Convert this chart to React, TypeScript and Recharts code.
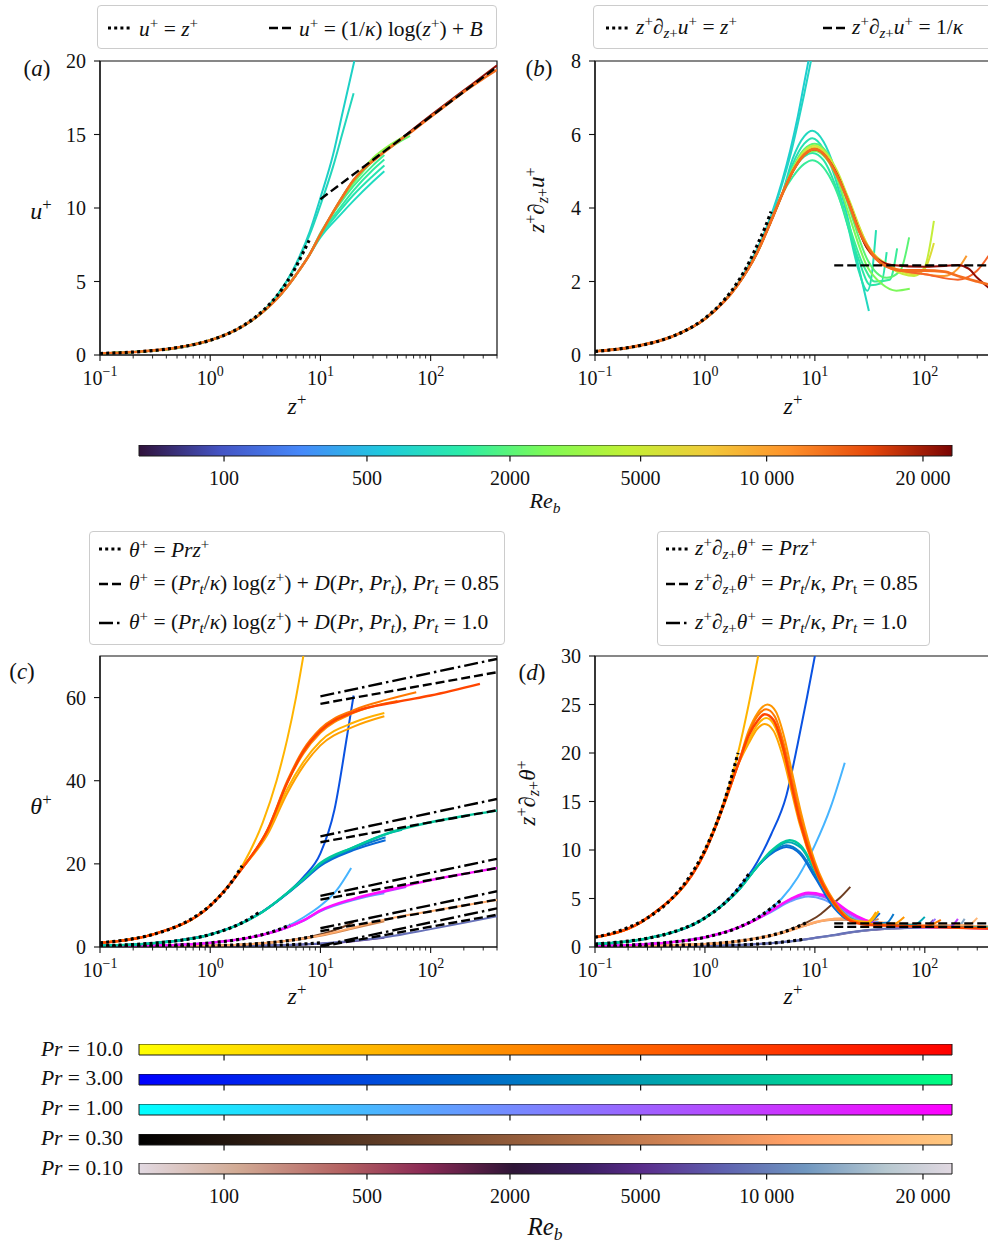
import React from 'react';
import { LineChart, Line, XAxis, YAxis, ReferenceArea } from 'recharts';

type Pt = [number, number];

const SERIF = '"Liberation Serif", "DejaVu Serif", "Times New Roman", serif';

// ---------- axes / colorbar ticks ----------
const X_MAJOR = [0.1, 1, 10, 100];
const X_EXP: Record<string, string> = { '0.1': '\u22121', '1': '0', '10': '1', '100': '2' };
const X_MINOR = [0.2, 0.3, 0.4, 0.5, 0.6, 0.7, 0.8, 0.9, 2, 3, 4, 5, 6, 7, 8, 9, 20, 30, 40, 50, 60, 70, 80, 90, 200, 300, 400];
const X_TICKS = [...X_MAJOR, ...X_MINOR].sort((a, b) => a - b);

const YA_TICKS = [0, 5, 10, 15, 20];
const YB_TICKS = [0, 2, 4, 6, 8];
const YC_TICKS = [0, 20, 40, 60];
const YD_TICKS = [0, 5, 10, 15, 20, 25, 30];

const CB_TICK_POS = [0.1046, 0.2804, 0.4563, 0.617, 0.772, 0.9643];
const CB_LABELS = ['100', '500', '2000', '5000', '10 000', '20 000'];
const CB_FRAME = [{ x: 0, y: 0 }, { x: 1, y: 1 }];
const PR_LABELS = ['10.0', '3.00', '1.00', '0.30', '0.10'];

// ---------- panel (a): u+ ----------
const A_VISC: Pt[] = [[0.1, 0.1], [0.15, 0.15], [0.2, 0.2], [0.3, 0.3], [0.4, 0.4], [0.5, 0.5], [0.7, 0.7], [1, 1], [1.5, 1.5], [2, 2], [2.5, 2.5], [3, 3], [4, 4], [5, 5], [6, 6], [7, 7], [7.9, 7.8]];
const A_LOG: Pt[] = [[10, 10.6], [400, 19.6]];
const A_WALL: Pt[] = [[0.1, 0.1], [0.2, 0.2], [0.5, 0.5], [1, 1], [2, 1.98], [3, 2.92], [4, 3.8], [5, 4.65], [6, 5.45], [8, 6.85]];
const A_LAM1: Pt[] = [[0.1, 0.1], [0.3, 0.3], [1, 1], [2, 2], [4, 4], [6, 6.2], [8, 8.4], [10, 10.7], [13, 13.6], [16, 16.6], [20.3, 20]];
const A_LAM2: Pt[] = [[0.1, 0.1], [0.3, 0.3], [1, 1], [2, 2], [4, 4], [6, 6.1], [8, 8.2], [10, 10.2], [13, 12.8], [16, 15.2], [20, 17.8]];
const A_RE1: Pt[] = [...A_WALL, [10, 8.0], [15, 9.5], [20, 10.5], [30, 11.8], [38, 12.5]];
const A_RE2: Pt[] = [...A_WALL, [10, 8.1], [15, 9.8], [20, 10.9], [30, 12.2], [38, 12.9]];
const A_RE3: Pt[] = [...A_WALL, [10, 8.2], [15, 10.0], [20, 11.2], [30, 12.6], [38, 13.3]];
const A_RE4: Pt[] = [...A_WALL, [10, 8.3], [15, 10.3], [20, 11.5], [30, 12.9], [38, 13.6]];
const A_RE5: Pt[] = [...A_WALL, [10, 8.2], [15, 10.4], [20, 11.7], [30, 13.2], [45, 14.2], [65, 14.9]];
const A_RE6: Pt[] = [...A_WALL, [10, 8.2], [15, 10.5], [20, 11.9], [30, 13.4], [45, 14.4], [65, 15.1]];
const A_RE7: Pt[] = [...A_WALL, [10, 8.2], [13, 9.7], [16, 10.8], [20, 11.9], [25, 12.7], [35, 13.6], [50, 14.5], [70, 15.3], [100, 16.2], [150, 17.2], [200, 17.9], [300, 18.8], [400, 19.4]];
const A_RE8: Pt[] = [...A_WALL, [10, 8.2], [20, 11.9], [50, 14.5], [100, 16.3], [200, 18.0], [300, 19.0], [400, 19.7]];

// ---------- panel (b): z+ du+/dz+ ----------
const B_VISC: Pt[] = [[0.1, 0.1], [0.15, 0.15], [0.2, 0.2], [0.3, 0.3], [0.4, 0.4], [0.5, 0.5], [0.7, 0.7], [1, 1], [1.5, 1.5], [2, 2], [2.5, 2.5], [3, 3], [3.5, 3.45], [4, 3.9]];
const B_LOG: Pt[] = [[15, 2.44], [400, 2.44]];
const B_WALL: Pt[] = [[0.1, 0.1], [0.2, 0.2], [0.5, 0.5], [1, 0.98], [2, 1.92], [3, 2.8], [4, 3.65], [5, 4.35]];
const B_LAM1: Pt[] = [[0.1, 0.1], [0.5, 0.5], [1, 0.99], [2, 1.96], [3, 2.9], [4, 3.8], [5, 4.7], [6, 5.6], [7, 6.5], [8, 7.4], [9, 8.2]];
const B_LAM2: Pt[] = [[0.1, 0.1], [0.5, 0.5], [1, 0.99], [2, 1.95], [3, 2.88], [4, 3.75], [5, 4.62], [6, 5.45], [7, 6.3], [8, 7.1], [9.5, 8.2]];
const B_RE1: Pt[] = [...B_WALL, [6.3, 5.35], [8, 5.95], [9.5, 6.1], [12, 5.8], [15, 5.1], [20, 3.7], [25, 2.4], [31, 1.2]];
const B_RE2: Pt[] = [...B_WALL, [6.3, 5.2], [8, 5.75], [9.5, 5.9], [12, 5.6], [15, 4.9], [20, 3.5], [25, 2.3], [30, 1.75], [33, 2.2], [36, 3.4]];
const B_RE3: Pt[] = [...B_WALL, [6.3, 5.0], [8, 5.4], [9.5, 5.5], [12, 5.3], [15, 4.7], [20, 3.5], [25, 2.6], [32, 1.9], [40, 1.95], [45, 2.8]];
const B_RE4: Pt[] = [...B_WALL, [6.3, 4.85], [8, 5.2], [9.5, 5.3], [12, 5.1], [15, 4.6], [20, 3.6], [28, 2.4], [35, 2.0], [48, 2.05], [56, 2.9]];
const B_RE5: Pt[] = [...B_WALL, [6.3, 5.1], [8, 5.6], [10, 5.75], [12.6, 5.55], [16, 4.95], [20, 4.1], [30, 2.6], [45, 2.1], [60, 2.3], [72, 3.2]];
const B_RE6: Pt[] = [...B_WALL, [6.3, 5.0], [8, 5.45], [10, 5.55], [12.6, 5.35], [16, 4.8], [20, 3.9], [30, 2.4], [40, 1.95], [55, 1.75], [73, 1.8]];
const B_RE7: Pt[] = [...B_WALL, [6.3, 5.05], [8, 5.55], [10, 5.7], [12.6, 5.5], [16, 5.0], [20, 4.3], [30, 3.0], [50, 2.35], [80, 2.15], [100, 2.4], [121, 3.65]];
const B_RE8: Pt[] = [...B_WALL, [6.3, 5.0], [8, 5.5], [10, 5.65], [12.6, 5.45], [16, 4.95], [20, 4.25], [30, 3.0], [50, 2.4], [80, 2.2], [100, 2.35], [121, 3.05]];
const B_RE9: Pt[] = [...B_WALL, [6.3, 5.0], [8, 5.45], [10, 5.6], [12.6, 5.4], [16, 4.9], [20, 4.2], [30, 2.9], [50, 2.38], [100, 2.2], [150, 2.15], [200, 2.35], [240, 2.7]];
const B_RE10: Pt[] = [...B_WALL, [6.3, 5.0], [8, 5.45], [10, 5.6], [12.6, 5.4], [16, 4.9], [20, 4.2], [30, 2.9], [50, 2.35], [100, 2.2], [200, 2.05], [300, 2.3], [380, 2.7]];
const B_RE11: Pt[] = [...B_WALL, [6.3, 5.0], [8, 5.45], [10, 5.6], [12.6, 5.4], [16, 4.9], [20, 4.2], [30, 2.9], [50, 2.45], [100, 2.4], [150, 2.42], [200, 2.45], [250, 2.35], [300, 2.1], [400, 1.78]];
const B_MAIN: Pt[] = [...B_WALL, [6.3, 5.0], [8, 5.45], [10, 5.6], [12.6, 5.4], [15.8, 4.9], [20, 4.2], [25, 3.4], [31.6, 2.85], [40, 2.5], [50, 2.35], [63, 2.3], [100, 2.3], [150, 2.27], [200, 2.15], [300, 2.0], [400, 1.9]];

// ---------- panel (c): theta+ ----------
const C10_VISC: Pt[] = [[0.1, 1], [0.15, 1.5], [0.2, 2], [0.3, 3], [0.5, 5], [0.7, 7], [1, 10], [1.5, 15], [1.95, 19.5]];
const C3_VISC: Pt[] = [[0.1, 0.3], [0.2, 0.6], [0.3, 0.9], [0.5, 1.5], [1, 3], [1.5, 4.5], [2, 6], [2.8, 8.4]];
const C1_VISC: Pt[] = [[0.1, 0.1], [0.3, 0.3], [0.5, 0.5], [1, 1], [2, 2], [3, 3], [4, 4], [5.3, 5.3]];
const C03_VISC: Pt[] = [[0.1, 0.03], [0.5, 0.15], [1, 0.3], [2, 0.6], [3, 0.9], [5, 1.5], [7, 2.1], [9, 2.7]];
const C01_VISC: Pt[] = [[0.1, 0.01], [1, 0.1], [3, 0.3], [5, 0.5], [10, 1.0]];
const C10_LOG85: Pt[] = [[10, 58.5], [400, 66.1]];
const C10_LOG10: Pt[] = [[10, 60.3], [400, 69.3]];
const C3_LOG85: Pt[] = [[10, 25.2], [400, 32.9]];
const C3_LOG10: Pt[] = [[10, 26.6], [400, 35.6]];
const C1_LOG85: Pt[] = [[10, 11.4], [400, 19.0]];
const C1_LOG10: Pt[] = [[10, 12.3], [400, 21.2]];
const C03_LOG85: Pt[] = [[10, 3.8], [400, 11.4]];
const C03_LOG10: Pt[] = [[10, 4.5], [400, 13.4]];
const C01_LOG85: Pt[] = [[10, 0.1], [400, 7.75]];
const C01_LOG10: Pt[] = [[10, 0.3], [400, 9.3]];

const C10_WALL: Pt[] = [[0.1, 1], [0.3, 3], [1, 9.9], [2, 19.3]];
const C10_LAM: Pt[] = [[0.1, 1], [0.3, 3], [1, 10], [2, 20], [3, 30], [4, 40], [5, 50], [6, 60], [7, 70]];
const C10_RE1: Pt[] = [...C10_WALL, [3.3, 27], [5, 37], [7, 43.5], [10, 48.5], [20, 53], [38, 55.5]];
const C10_RE2: Pt[] = [...C10_WALL, [3.3, 27.5], [5, 38], [7, 44.5], [10, 49.5], [20, 54], [38, 56.3]];
const C10_RE3: Pt[] = [...C10_WALL, [3.3, 28], [5, 39.5], [7, 46.5], [10, 51.5], [20, 56.3], [50, 59.2]];
const C10_RE4: Pt[] = [...C10_WALL, [3.3, 28.2], [5, 40], [7, 47.5], [10, 52.5], [20, 57], [40, 59.5], [74, 61.3]];
const C10_RE5: Pt[] = [...C10_WALL, [3.3, 28], [5, 39.5], [7, 47], [10, 52], [20, 56.5], [50, 59], [100, 60.5], [280, 63.3]];

const C3_WALL: Pt[] = [[0.1, 0.3], [0.3, 0.9], [1, 3], [2, 5.9], [3, 8.5]];
const C3_LAM: Pt[] = [[0.1, 0.3], [0.3, 0.9], [1, 3], [2, 6], [3, 8.6], [5, 13], [7, 16.8], [10, 22.5], [13.4, 33], [17.5, 51], [20, 60.5]];
const C3_RE1: Pt[] = [...C3_WALL, [5, 12.8], [7, 16], [10, 19.5], [20, 23.3], [39, 25.7]];
const C3_RE2: Pt[] = [...C3_WALL, [5, 12.9], [7, 16.2], [10, 19.8], [20, 23.7], [39, 26.4]];
const C3_RE3: Pt[] = [...C3_WALL, [5, 13], [7, 16.4], [10, 20], [20, 24], [40, 27.2], [55, 28.2]];
const C3_RE4: Pt[] = [...C3_WALL, [5, 13], [7, 16.3], [10, 20.2], [20, 24], [40, 27.3], [100, 30], [200, 31.5], [400, 32.8]];

const C1_WALL: Pt[] = [[0.1, 0.1], [0.3, 0.3], [1, 1], [2, 2], [3, 2.95], [5, 4.7]];
const C1_LAM: Pt[] = [[0.1, 0.1], [0.3, 0.3], [1, 1], [2, 2], [3, 3], [5, 5], [7, 7.1], [10, 9.9], [14, 13.6], [19, 19]];
const C1_RE1: Pt[] = [...C1_WALL, [7, 6.3], [10, 8.6], [20, 11.3], [38, 12.9]];
const C1_RE2: Pt[] = [...C1_WALL, [7, 6.35], [10, 8.7], [20, 11.5], [40, 13.4], [60, 14.4]];
const C1_RE3: Pt[] = [...C1_WALL, [7, 6.4], [10, 8.8], [20, 11.6], [40, 13.6], [100, 16.1], [200, 17.6], [400, 19.0]];

const C03_WALL: Pt[] = [[0.1, 0.03], [1, 0.3], [3, 0.9], [5, 1.48]];
const C03_LAM: Pt[] = [[0.1, 0.03], [1, 0.3], [3, 0.9], [5, 1.5], [8, 2.4], [12, 3.6], [16, 4.8], [20, 6.0]];
const C03_RE1: Pt[] = [...C03_WALL, [7, 2.0], [10, 2.7], [20, 4.5], [38, 6.2]];
const C03_RE2: Pt[] = [...C03_WALL, [7, 2.05], [10, 2.8], [20, 4.7], [40, 6.7], [100, 8.6], [200, 10.0], [400, 11.3]];

const C01_WALL: Pt[] = [[0.1, 0.01], [1, 0.1], [5, 0.5]];
const C01_RE1: Pt[] = [...C01_WALL, [10, 0.8], [20, 1.4], [38, 2.2]];
const C01_RE2: Pt[] = [...C01_WALL, [10, 0.85], [20, 1.5], [40, 2.4], [100, 4.3], [200, 5.8], [400, 7.4]];

// ---------- panel (d): z+ dtheta+/dz+ ----------
const D10_VISC: Pt[] = [[0.1, 1], [0.15, 1.5], [0.2, 2], [0.3, 3], [0.5, 5], [0.7, 7], [1, 10], [1.5, 15], [2, 20]];
const D3_VISC: Pt[] = [[0.1, 0.3], [0.2, 0.6], [0.3, 0.9], [0.5, 1.5], [1, 3], [1.5, 4.5], [2, 6], [2.6, 7.8]];
const D1_VISC: Pt[] = [[0.1, 0.1], [0.3, 0.3], [0.5, 0.5], [1, 1], [2, 2], [3, 3], [4, 4], [5, 4.9]];
const D03_VISC: Pt[] = [[0.1, 0.03], [0.5, 0.15], [1, 0.3], [2, 0.6], [3, 0.9], [5, 1.5], [7, 2.1], [8.5, 2.55]];
const D01_VISC: Pt[] = [[0.1, 0.01], [1, 0.1], [3, 0.3], [5, 0.5], [8, 0.8]];
const D_LOG85: Pt[] = [[15, 2.07], [400, 2.07]];
const D_LOG10: Pt[] = [[15, 2.44], [400, 2.44]];

const D10_WALL: Pt[] = [[0.1, 1], [0.3, 3], [1, 9.8], [2, 18.8]];
const D10_LAM: Pt[] = [[0.1, 1], [0.3, 3], [1, 10], [2, 20], [2.5, 25], [3.05, 30]];
const D10_RE1: Pt[] = [...D10_WALL, [2.5, 21], [3, 22.5], [3.5, 23], [4.2, 22.3], [5.15, 19.5], [6, 16.5], [7.3, 12.6], [10, 8], [14.7, 4.5], [21, 2.8], [30, 2.6], [36, 3.6]];
const D10_RE2: Pt[] = [...D10_WALL, [2.5, 21.3], [3, 22.9], [3.6, 23.6], [4.2, 23], [5.15, 20.2], [6, 17], [7.3, 12.9], [10, 8.2], [14.7, 4.6], [21, 2.8], [30, 2.5], [38, 3.7]];
const D10_RE3: Pt[] = [...D10_WALL, [2.5, 22.3], [3, 24.1], [3.7, 25], [4.4, 24.3], [5.3, 21.5], [6.2, 18], [7.5, 13.8], [10, 8.8], [15, 4.7], [21, 2.9], [30, 2.4], [50, 2.3], [65, 3.1]];
const D10_RE4: Pt[] = [...D10_WALL, [2.5, 22], [3, 23.8], [3.6, 24.5], [4.3, 23.8], [5.2, 21], [6.1, 17.6], [7.4, 13.4], [10, 8.5], [15, 4.6], [21, 2.8], [30, 2.35], [50, 2.2], [100, 2.15], [140, 2.8]];
const D10_RE5: Pt[] = [...D10_WALL, [2.5, 21.8], [3, 23.3], [3.5, 24], [4.2, 23.4], [5.15, 20.5], [6, 17.2], [7.3, 13], [10, 8.2], [14.7, 4.6], [21, 2.7], [30, 2.3], [50, 2.2], [100, 2.1], [200, 2.0], [400, 1.9]];

const D3_WALL: Pt[] = [[0.1, 0.3], [0.3, 0.9], [1, 3], [2, 5.8], [3, 8.3]];
const D3_LAM: Pt[] = [[0.1, 0.3], [0.3, 0.9], [1, 3], [2, 6], [3, 8.8], [4, 11.6], [5.5, 15.6], [7, 21], [8.5, 25.8], [10, 30]];
const D3_RE1: Pt[] = [...D3_WALL, [4, 9.6], [5.5, 10.3], [7.3, 9.6], [10, 7.2], [15, 4.0], [20, 2.8], [30, 2.5], [39, 3.5]];
const D3_RE2: Pt[] = [...D3_WALL, [4, 9.7], [5.5, 10.5], [7.3, 9.8], [10, 7.5], [15, 4.2], [20, 2.9], [30, 2.4], [45, 2.5], [52, 3.4]];
const D3_RE3: Pt[] = [...D3_WALL, [4, 9.8], [5.7, 10.8], [7.5, 10.2], [10, 7.8], [15, 4.4], [20, 3.0], [30, 2.4], [50, 2.25], [80, 2.3], [100, 3.1]];
const D3_RE4: Pt[] = [...D3_WALL, [4, 9.9], [5.9, 11], [7.5, 10.4], [10, 8.0], [15, 4.6], [20, 3.1], [30, 2.4], [50, 2.2], [100, 2.1], [200, 2.05], [400, 2.0]];

const D1_WALL: Pt[] = [[0.1, 0.1], [0.3, 0.3], [1, 1], [2, 2], [3, 2.9]];
const D1_LAM: Pt[] = [[0.1, 0.1], [0.3, 0.3], [1, 1], [2, 2], [3, 3], [5, 5], [7, 7.2], [10, 10.5], [14, 14.5], [18.7, 19]];
const D1_RE1: Pt[] = [...D1_WALL, [4, 3.6], [6, 4.7], [8.7, 5.2], [12, 4.9], [16, 4.1], [20, 3.3], [30, 2.5], [38, 2.6]];
const D1_RE2: Pt[] = [...D1_WALL, [4, 3.7], [6, 4.85], [8.7, 5.4], [12, 5.15], [16, 4.3], [20, 3.5], [30, 2.6], [50, 2.2], [100, 2.1], [125, 2.9]];
const D1_RE3: Pt[] = [...D1_WALL, [4, 3.72], [6, 4.9], [8.7, 5.5], [12, 5.25], [16, 4.4], [20, 3.6], [30, 2.65], [50, 2.2], [100, 2.05], [170, 2.1], [200, 2.9]];
const D1_RE4: Pt[] = [...D1_WALL, [4, 3.75], [6, 4.95], [8.7, 5.6], [12, 5.35], [16, 4.5], [20, 3.7], [30, 2.7], [50, 2.2], [100, 2.05], [200, 2.0], [400, 1.85]];

const D03_WALL: Pt[] = [[0.1, 0.03], [1, 0.3], [3, 0.9], [5, 1.45]];
const D03_LAM: Pt[] = [[0.1, 0.03], [1, 0.3], [3, 0.9], [5, 1.5], [8, 2.4], [11, 3.3], [14, 4.3], [17, 5.1], [21, 6.2]];
const D03_RE1: Pt[] = [...D03_WALL, [8, 2.15], [10, 2.5], [15, 2.8], [20, 2.8], [30, 2.6], [38, 2.9]];
const D03_RE2: Pt[] = [...D03_WALL, [8, 2.2], [10, 2.55], [15, 2.9], [20, 2.95], [30, 2.7], [50, 2.4], [100, 2.2], [250, 2.3], [300, 3.0]];
const D03_RE3: Pt[] = [...D03_WALL, [8, 2.2], [10, 2.55], [15, 2.9], [20, 2.95], [30, 2.7], [50, 2.4], [100, 2.25], [200, 2.2], [400, 2.1]];

const D01_WALL: Pt[] = [[0.1, 0.01], [1, 0.1], [3, 0.3], [5, 0.5]];
const D01_RE1: Pt[] = [...D01_WALL, [7, 0.66], [10, 0.92], [15, 1.2], [20, 1.45], [30, 1.7], [50, 1.9], [100, 2.1], [120, 2.8]];
const D01_RE2: Pt[] = [...D01_WALL, [7, 0.67], [10, 0.93], [15, 1.22], [20, 1.47], [30, 1.72], [50, 1.9], [100, 2.0], [200, 2.1], [230, 2.9]];
const D01_RE3: Pt[] = [...D01_WALL, [7, 0.68], [10, 0.95], [15, 1.25], [20, 1.5], [30, 1.75], [50, 1.92], [100, 2.0], [200, 2.05], [400, 2.05]];

// ---------- colormaps ----------
const GRADS: { id: string; stops: [number, string][] }[] = [
  { id: 'turbo', stops: [[0, '#30123b'], [0.1, '#4454c4'], [0.2, '#4689fa'], [0.3, '#1fc9dd'], [0.4, '#2ceda6'], [0.5, '#7dfa56'], [0.6, '#c2f034'], [0.7, '#f1ca3a'], [0.8, '#fe912a'], [0.9, '#e5470b'], [1, '#7a0403']] },
  { id: 'autumn', stops: [[0, '#ffff00'], [1, '#ff0000']] },
  { id: 'winter', stops: [[0, '#0000ff'], [1, '#00ff80']] },
  { id: 'cool', stops: [[0, '#00ffff'], [1, '#ff00ff']] },
  { id: 'copper', stops: [[0, '#000000'], [0.8, '#ffa066'], [1, '#ffc77f']] },
  { id: 'twilight', stops: [[0, '#e2d9e2'], [0.12, '#d2ab95'], [0.25, '#b46262'], [0.35, '#8b2a55'], [0.46, '#2f1537'], [0.55, '#3c1e63'], [0.62, '#5a2d8c'], [0.72, '#5f62b0'], [0.82, '#7097c0'], [0.92, '#b7c8d0'], [1, '#e1d8e1']] },
];

const DOT = '3 3.2';
const DASH = '9 4';
const DASHDOT = '14 4 2.5 4';

type LineSpec = { d: Pt[]; c: string; w?: number; dash?: string };
const blk = (d: Pt[], dash: string): LineSpec => ({ d, c: '#000', w: dash === DOT ? 3.2 : 2.4, dash });

const LINES_A: LineSpec[] = [
  { d: A_RE8, c: '#8c0d05' },
  { d: A_LAM1, c: '#1dd0c6' },
  { d: A_LAM2, c: '#22d6bc' },
  { d: A_RE1, c: '#1fdcc0' },
  { d: A_RE2, c: '#26e4b0' },
  { d: A_RE3, c: '#30eaa2' },
  { d: A_RE4, c: '#3ef092' },
  { d: A_RE5, c: '#62f86c' },
  { d: A_RE6, c: '#8ef94a' },
  { d: A_RE7, c: '#f46d1e', w: 2.6 },
  blk(A_VISC, DOT),
  blk(A_LOG, DASH),
];

const LINES_B: LineSpec[] = [
  { d: B_LAM1, c: '#1ccfd0' },
  { d: B_LAM2, c: '#22d4c4' },
  { d: B_RE1, c: '#22d8c0' },
  { d: B_RE2, c: '#26e0b2' },
  { d: B_RE3, c: '#2ae6a6' },
  { d: B_RE4, c: '#38ec98' },
  { d: B_RE5, c: '#5af474' },
  { d: B_RE6, c: '#7cf85a' },
  { d: B_RE7, c: '#c4ee3a' },
  { d: B_RE8, c: '#dcdc36' },
  { d: B_RE9, c: '#fa9a2e' },
  { d: B_RE10, c: '#f5642a' },
  { d: B_RE11, c: '#900c06' },
  { d: B_MAIN, c: '#f46d1e', w: 2.8 },
  blk(B_VISC, DOT),
  blk(B_LOG, DASH),
];

const LINES_C: LineSpec[] = [
  { d: C01_RE1, c: '#5a2d8a' },
  { d: C01_RE2, c: '#6670b8' },
  { d: C03_LAM, c: '#6e3e22' },
  { d: C03_RE1, c: '#d08650' },
  { d: C03_RE2, c: '#ffaa6a' },
  { d: C1_LAM, c: '#46b4ff' },
  { d: C1_RE1, c: '#6a9cff' },
  { d: C1_RE2, c: '#b050ff' },
  { d: C1_RE3, c: '#ff10ff', w: 2.4 },
  { d: C3_LAM, c: '#0a52e2' },
  { d: C3_RE1, c: '#0868d8' },
  { d: C3_RE2, c: '#0a78cc' },
  { d: C3_RE3, c: '#00a8b4' },
  { d: C3_RE4, c: '#00c89c', w: 2.4 },
  { d: C10_LAM, c: '#ffb400' },
  { d: C10_RE1, c: '#ffa000' },
  { d: C10_RE2, c: '#ffb000' },
  { d: C10_RE3, c: '#ff8c00' },
  { d: C10_RE4, c: '#ff7800' },
  { d: C10_RE5, c: '#ff4500', w: 2.4 },
  blk(C10_VISC, DOT), blk(C3_VISC, DOT), blk(C1_VISC, DOT), blk(C03_VISC, DOT), blk(C01_VISC, DOT),
  blk(C10_LOG85, DASH), blk(C3_LOG85, DASH), blk(C1_LOG85, DASH), blk(C03_LOG85, DASH), blk(C01_LOG85, DASH),
  blk(C10_LOG10, DASHDOT), blk(C3_LOG10, DASHDOT), blk(C1_LOG10, DASHDOT), blk(C03_LOG10, DASHDOT), blk(C01_LOG10, DASHDOT),
];

const LINES_D: LineSpec[] = [
  { d: D01_RE1, c: '#5a2d8a' },
  { d: D01_RE2, c: '#8aa8c4' },
  { d: D01_RE3, c: '#6670b8' },
  { d: D03_LAM, c: '#6e3e22' },
  { d: D03_RE1, c: '#d08650' },
  { d: D03_RE2, c: '#ffb878' },
  { d: D03_RE3, c: '#ffaa6a', w: 2.4 },
  { d: D1_LAM, c: '#46b4ff' },
  { d: D1_RE1, c: '#6aa0ff' },
  { d: D1_RE2, c: '#9a70ff' },
  { d: D1_RE3, c: '#c040ff' },
  { d: D1_RE4, c: '#ff10ff', w: 2.4 },
  { d: D3_LAM, c: '#0a52e2' },
  { d: D3_RE1, c: '#0868d8' },
  { d: D3_RE2, c: '#0a78cc' },
  { d: D3_RE3, c: '#00a8b4' },
  { d: D3_RE4, c: '#00c89c', w: 2.4 },
  { d: D10_LAM, c: '#ffb400' },
  { d: D10_RE1, c: '#ffa500' },
  { d: D10_RE2, c: '#ffb400' },
  { d: D10_RE3, c: '#ff9600' },
  { d: D10_RE4, c: '#ff7800' },
  { d: D10_RE5, c: '#ff4500', w: 2.6 },
  blk(D10_VISC, DOT), blk(D3_VISC, DOT), blk(D1_VISC, DOT), blk(D03_VISC, DOT), blk(D01_VISC, DOT),
  blk(D_LOG85, DASH), blk(D_LOG10, DASH),
];

const TICK_FS = 20;
const LEG_FS = 21.5;

const toXY = (pts: Pt[]) => pts.map(([x, y]) => ({ x, y }));

function LogTick(props: any) {
  const { x, y, payload } = props;
  const exp = X_EXP[String(payload.value)];
  const major = exp !== undefined;
  return (
    <g>
      <line x1={x} x2={x} y1={y} y2={y + (major ? 6 : 3.5)} stroke="#111" strokeWidth={major ? 1.1 : 0.9} />
      {major && (
        <text x={x} y={y + 30} textAnchor="middle" fontFamily={SERIF} fontSize={TICK_FS} fill="#111">
          10<tspan dy={-9} fontSize={14}>{exp}</tspan>
        </text>
      )}
    </g>
  );
}

function CbTick(props: any) {
  const { x, y, payload, showLabel } = props;
  const i = CB_TICK_POS.indexOf(payload.value);
  return (
    <g>
      <line x1={x} x2={x} y1={y} y2={y + 5.5} stroke="#111" strokeWidth={1.2} />
      {showLabel && (
        <text x={x} y={y + 29} textAnchor="middle" fontFamily={SERIF} fontSize={TICK_FS} fill="#111">
          {CB_LABELS[i]}
        </text>
      )}
    </g>
  );
}

function Panel(p: {
  left: number; top: number; marginTop: number; marginRight: number; yWidth: number; xHeight: number;
  yMax: number; yTicks: number[]; lines: LineSpec[];
}) {
  return (
    <div style={{ position: 'absolute', left: p.left, top: p.top }}>
      <LineChart width={520} height={420} margin={{ top: p.marginTop, right: p.marginRight, bottom: 0, left: 0 }}>
        <XAxis
          dataKey="x" type="number" scale="log" domain={[0.1, 400]} allowDataOverflow
          ticks={X_TICKS} interval={0} tick={<LogTick />} tickLine={false} tickSize={0} tickMargin={0}
          height={p.xHeight} axisLine={{ stroke: '#111', strokeWidth: 1.2 }}
        />
        <YAxis
          type="number" domain={[0, p.yMax]} allowDataOverflow ticks={p.yTicks} interval={0}
          width={p.yWidth} tickSize={6} tickMargin={8}
          tick={{ fontSize: TICK_FS, fill: '#111', fontFamily: SERIF }}
          tickLine={{ stroke: '#111', strokeWidth: 1.1 }} axisLine={{ stroke: '#111', strokeWidth: 1.2 }}
        />
        <ReferenceArea x1={0.1} x2={400} y1={0} y2={p.yMax} fill="none" stroke="#111" strokeWidth={1.2} />
        {p.lines.map((l, i) => (
          <Line
            key={i} data={toXY(l.d)} dataKey="y" type={l.d.length === 2 ? 'linear' : 'monotone'}
            stroke={l.c} strokeWidth={l.w ?? 2} strokeDasharray={l.dash} dot={false} activeDot={false}
            isAnimationActive={false}
          />
        ))}
      </LineChart>
    </div>
  );
}

function ColorBar({ top, grad, labels }: { top: number; grad: string; labels: boolean }) {
  return (
    <div style={{ position: 'absolute', left: 0, top }}>
      <LineChart width={988} height={51} margin={{ top: 0, right: 36, bottom: 0, left: 139 }}>
        <XAxis
          dataKey="x" type="number" domain={[0, 1]} ticks={CB_TICK_POS} interval={0}
          tickLine={false} axisLine={false} tickSize={0} tickMargin={0} height={40}
          tick={<CbTick showLabel={labels} />}
        />
        <YAxis hide type="number" domain={[0, 1]} />
        {/* invisible series that only gives both axes their [0, 1] extent */}
        <Line data={CB_FRAME} dataKey="y" stroke="transparent" dot={false} activeDot={false} isAnimationActive={false} />
        <ReferenceArea x1={0} x2={1} y1={0} y2={1} ifOverflow="visible" fill={`url(#${grad})`} fillOpacity={1} stroke="#1a1a1a" strokeWidth={1} />
      </LineChart>
    </div>
  );
}

const Sup = ({ children }: { children: React.ReactNode }) => (
  <span style={{ fontSize: '0.7em', verticalAlign: '0.5em' }}>{children}</span>
);
const Sub = ({ children }: { children: React.ReactNode }) => (
  <span style={{ fontSize: '0.7em', verticalAlign: '-0.3em' }}>{children}</span>
);

function T(p: { x: number; y: number; size?: number; anchor?: 'start' | 'middle' | 'end'; rotate?: number; children: React.ReactNode }) {
  const tx = p.anchor === 'start' ? '0' : p.anchor === 'end' ? '-100%' : '-50%';
  return (
    <div
      style={{
        position: 'absolute', left: p.x, top: p.y, whiteSpace: 'nowrap', lineHeight: 1,
        fontFamily: SERIF, fontSize: p.size ?? LEG_FS, color: '#111',
        transform: `translate(${tx}, -50%)${p.rotate ? ` rotate(${p.rotate}deg)` : ''}`,
      }}
    >
      {p.children}
    </div>
  );
}

function Sample({ dash }: { dash: string }) {
  return (
    <svg width={24} height={10} style={{ display: 'block' }}>
      <line x1={0} x2={24} y1={5} y2={5} stroke="#000" strokeWidth={dash === DOT ? 3.2 : 2.4} strokeDasharray={dash} />
    </svg>
  );
}

type LegItem = { sx: number; tx: number; y: number; dash: string; text: React.ReactNode };

function LegendBox({ left, top, width, height, items }: { left: number; top: number; width: number; height: number; items: LegItem[] }) {
  return (
    <div
      style={{
        position: 'absolute', left, top, width, height, border: '1px solid #cccccc', borderRadius: 4,
        background: 'rgba(255,255,255,0.85)', boxSizing: 'border-box',
      }}
    >
      {items.map((it, i) => (
        <React.Fragment key={i}>
          <div style={{ position: 'absolute', left: it.sx, top: it.y - 5 }}>
            <Sample dash={it.dash} />
          </div>
          <T x={it.tx} y={it.y} anchor="start">{it.text}</T>
        </React.Fragment>
      ))}
    </div>
  );
}

const zd = (v: string) => (
  <>
    <i>z</i><Sup>+</Sup>∂<Sub><i>z</i>+</Sub><i>{v}</i><Sup>+</Sup>
  </>
);
const prt = <><i>Pr</i><Sub><i>t</i></Sub></>;

export default function App() {
  return (
    <div style={{ position: 'absolute', left: 0, top: 0, width: 988, height: 1244, overflow: 'hidden', background: '#fff' }}>
      <svg width={0} height={0} style={{ position: 'absolute' }}>
        <defs>
          {GRADS.map((g) => (
            <linearGradient key={g.id} id={g.id} x1="0" x2="1" y1="0" y2="0">
              {g.stops.map(([o, c], i) => (
                <stop key={i} offset={o} stopColor={c} />
              ))}
            </linearGradient>
          ))}
        </defs>
      </svg>

      <Panel left={0} top={0} marginTop={61} marginRight={23} yWidth={100} xHeight={65} yMax={20} yTicks={YA_TICKS} lines={LINES_A} />
      <Panel left={500} top={0} marginTop={61} marginRight={29} yWidth={95} xHeight={65} yMax={8} yTicks={YB_TICKS} lines={LINES_B} />
      <Panel left={0} top={600} marginTop={56} marginRight={23} yWidth={100} xHeight={73} yMax={70} yTicks={YC_TICKS} lines={LINES_C} />
      <Panel left={500} top={600} marginTop={56} marginRight={29} yWidth={95} xHeight={73} yMax={30} yTicks={YD_TICKS} lines={LINES_D} />

      <LegendBox
        left={97} top={5} width={400} height={44}
        items={[
          { sx: 10, tx: 41, y: 22, dash: DOT, text: <><i>u</i><Sup>+</Sup> = <i>z</i><Sup>+</Sup></> },
          { sx: 171, tx: 201, y: 22, dash: DASH, text: <><i>u</i><Sup>+</Sup> = (1/<i>κ</i>) log(<i>z</i><Sup>+</Sup>) + <i>B</i></> },
        ]}
      />
      <LegendBox
        left={593} top={5} width={420} height={44}
        items={[
          { sx: 12, tx: 42, y: 22, dash: DOT, text: <>{zd('u')} = <i>z</i><Sup>+</Sup></> },
          { sx: 229, tx: 258, y: 22, dash: DASH, text: <>{zd('u')} = 1/<i>κ</i></> },
        ]}
      />
      <LegendBox
        left={89} top={531} width={416} height={114}
        items={[
          { sx: 9, tx: 39, y: 17, dash: DOT, text: <><i>θ</i><Sup>+</Sup> = <i>Prz</i><Sup>+</Sup></> },
          { sx: 9, tx: 39, y: 52, dash: DASH, text: <><i>θ</i><Sup>+</Sup> = ({prt}/<i>κ</i>) log(<i>z</i><Sup>+</Sup>) + <i>D</i>(<i>Pr</i>, {prt}), {prt} = 0.85</> },
          { sx: 9, tx: 39, y: 91, dash: DASHDOT, text: <><i>θ</i><Sup>+</Sup> = ({prt}/<i>κ</i>) log(<i>z</i><Sup>+</Sup>) + <i>D</i>(<i>Pr</i>, {prt}), {prt} = 1.0</> },
        ]}
      />
      <LegendBox
        left={657} top={531} width={273} height={115}
        items={[
          { sx: 8, tx: 37, y: 17, dash: DOT, text: <>{zd('θ')} = <i>Prz</i><Sup>+</Sup></> },
          { sx: 8, tx: 37, y: 52, dash: DASH, text: <>{zd('θ')} = {prt}/<i>κ</i>, <i>Pr</i><Sub>t</Sub> = 0.85</> },
          { sx: 8, tx: 37, y: 91, dash: DASHDOT, text: <>{zd('θ')} = {prt}/<i>κ</i>, {prt} = 1.0</> },
        ]}
      />

      <T x={37} y={68} size={23}>(<i>a</i>)</T>
      <T x={539} y={68} size={23}>(<i>b</i>)</T>
      <T x={22} y={671} size={23}>(<i>c</i>)</T>
      <T x={532} y={672} size={23}>(<i>d</i>)</T>

      <T x={41} y={210} size={24}><i>u</i><Sup>+</Sup></T>
      <T x={537} y={200} size={23} rotate={-90}>{zd('u')}</T>
      <T x={41} y={805} size={24}><i>θ</i><Sup>+</Sup></T>
      <T x={528} y={793} size={23} rotate={-90}>{zd('θ')}</T>
      <T x={297} y={405} size={24}><i>z</i><Sup>+</Sup></T>
      <T x={793} y={405} size={24}><i>z</i><Sup>+</Sup></T>
      <T x={297} y={995} size={24}><i>z</i><Sup>+</Sup></T>
      <T x={793} y={995} size={24}><i>z</i><Sup>+</Sup></T>

      <ColorBar top={444.5} grad="turbo" labels />
      <T x={545} y={503} size={22}><i>Re</i><Sub><i>b</i></Sub></T>

      <ColorBar top={1044} grad="autumn" labels={false} />
      <ColorBar top={1074} grad="winter" labels={false} />
      <ColorBar top={1104} grad="cool" labels={false} />
      <ColorBar top={1133.5} grad="copper" labels={false} />
      <ColorBar top={1163.3} grad="twilight" labels />
      {PR_LABELS.map((l, i) => (
        <T key={l} x={123} y={[1049.6, 1079.3, 1109.2, 1138.7, 1168.7][i]} anchor="end">
          <i>Pr</i> = {l}
        </T>
      ))}
      <T x={545} y={1229} size={25}><i>Re</i><Sub><i>b</i></Sub></T>
    </div>
  );
}
